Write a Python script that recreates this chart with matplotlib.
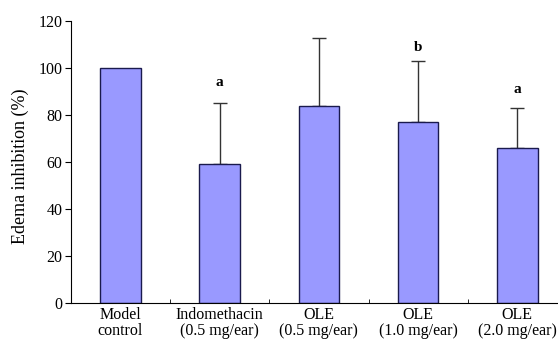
"""Edema inhibition bar chart with upward error bars."""

import matplotlib

matplotlib.use("Agg")
from matplotlib import pyplot as plt  # noqa: E402

categories = [
    "Model\ncontrol",
    "Indomethacin\n(0.5 mg/ear)",
    "OLE\n(0.5 mg/ear)",
    "OLE\n(1.0 mg/ear)",
    "OLE\n(2.0 mg/ear)",
]
inhibition = [100.0, 59.0, 83.5, 76.7, 65.7]
error_up = [0.0, 26.0, 29.1, 26.0, 17.2]
significance = ["", "a", "", "b", "a"]
letter_y = [0.0, 93.5, 0.0, 108.8, 90.7]
yticks = [0, 20, 40, 60, 80, 100, 120]

plt.rcParams["font.family"] = ["Liberation Serif", "DejaVu Serif"]

fig = plt.figure(figsize=(5.58, 3.4), dpi=100)
ax = fig.add_axes([0.127, 0.110, 0.873, 0.829])

x = list(range(len(categories)))
ax.bar(
    x,
    inhibition,
    width=0.41,
    color="#9999ff",
    edgecolor="#1a1a4d",
    linewidth=1.0,
    zorder=2,
)
ax.errorbar(
    x[1:],
    inhibition[1:],
    yerr=[[0] * (len(x) - 1), error_up[1:]],
    fmt="none",
    ecolor="#333333",
    elinewidth=1.0,
    capsize=5,
    capthick=1.0,
    zorder=1,
)
for xi, label, yl in zip(x, significance, letter_y):
    if label:
        ax.text(xi, yl, label, ha="center", va="center", fontsize=11,
                fontweight="bold")

ax.set_xlim(-0.5, 4.41)
ax.set_ylim(0, 120)
ax.set_yticks(yticks)
ax.tick_params(axis="y", direction="out", length=4, labelsize=11.5, pad=2)
ax.set_xticks(x, categories)
ax.set_xticks([0.5, 1.5, 2.5, 3.5], minor=True)
ax.tick_params(axis="x", which="major", length=0, labelsize=11.5, pad=3)
ax.tick_params(axis="x", which="minor", direction="in", length=3)
for label in ax.get_xticklabels():
    label.set_linespacing(1.05)
ax.set_ylabel("Edema inhibition (%)", fontsize=13)
ax.yaxis.set_label_coords(-0.086, 0.485)
ax.spines["top"].set_visible(False)
ax.spines["right"].set_visible(False)

fig.savefig("out.png", dpi=100)
